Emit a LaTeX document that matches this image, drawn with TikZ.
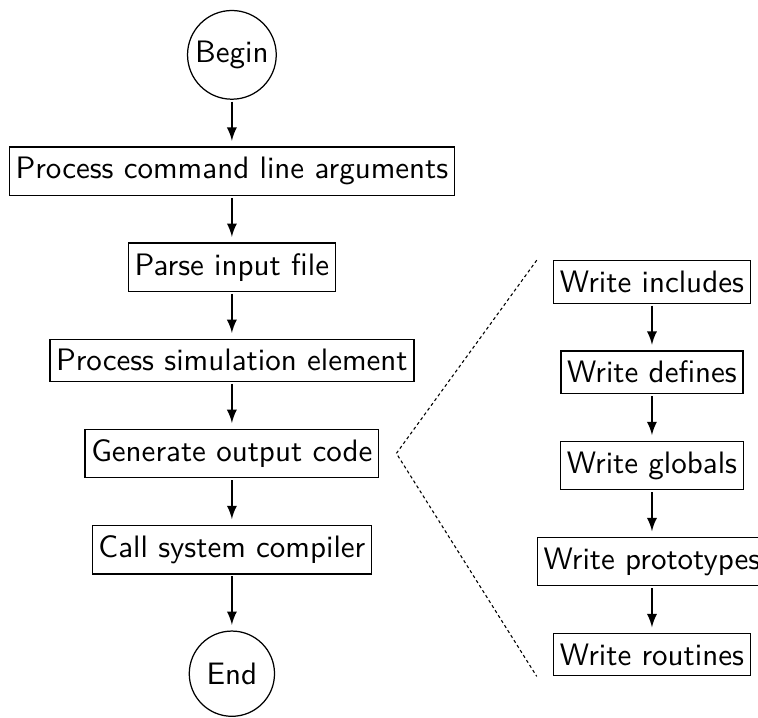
\documentclass[tikz,border=0pt]{standalone}
\usepackage{tikz}
\usetikzlibrary{positioning}
\usetikzlibrary{calc}
\usetikzlibrary{arrows}
\tikzset{
  box/.style      = { rectangle, inner xsep=2pt, inner ysep=3.3pt, font=\sffamily },
  border/.style   = { draw=black, line width=0.4pt },
  ring/.style     = { circle, inner sep=1.3pt, minimum size=27.5pt, font=\sffamily },
}
\tikzset{
  terminal/.style = { ring, border },
  stage/.style    = { box, border },
  substage/.style = { box, border },
  zoomline/.style = { line width=0.35pt, dash pattern=on 1pt off 0.9pt },
  flow/.style     = { ->, line width=0.5pt, shorten >=1.8pt, shorten <=0.6pt }
}

\begin{document}
\begin{tikzpicture}[
  node distance=15pt,
  >=latex,black,text=black
]
  \useasboundingbox (-74.8pt,17.7pt) rectangle (169.7pt,-213.9pt);

  \node (begin) [terminal]                    {Begin};
  \node (args)  [stage,below=of begin]        {Process command line arguments};
  \node (parse) [stage,below=of args]         {Parse input file};
  \node (sim)   [stage,below=of parse]        {Process simulation element};
  \node (gen)   [stage,below=of sim]          {Generate output code};
  \node (comp)  [stage,below=of gen]          {Call system compiler};
  \node (end)   [terminal,below=18pt of comp] {End};

  \node (glob)  [substage] at ($(gen)+(135.5pt,-3.9pt)$) {Write globals};
  \node (defs)  [substage,above=of glob]  {Write defines};
  \node (incl)  [substage,above=of defs]  {Write includes};
  \node (proto) [substage,below=of glob]  {Write prototypes};
  \node (rout)  [substage,below=of proto] {Write routines};

  \draw [flow] (begin) -- (args);
  \draw [flow] (args)  -- (parse);
  \draw [flow] (parse) -- (sim);
  \draw [flow] (sim)   -- (gen);
  \draw [flow] (gen)   -- (comp);
  \draw [flow] (comp)  -- (end);

  \draw [flow] (incl)  -- (defs);
  \draw [flow] (defs)  -- (glob);
  \draw [flow] (glob)  -- (proto);
  \draw [flow] (proto) -- (rout);

  \coordinate (apex) at ($(gen.east)+(5.5pt,0)$);
  \draw [zoomline] (proto.west |- incl.north) -- (apex) -- (proto.west |- rout.south);

\end{tikzpicture}
\end{document}
